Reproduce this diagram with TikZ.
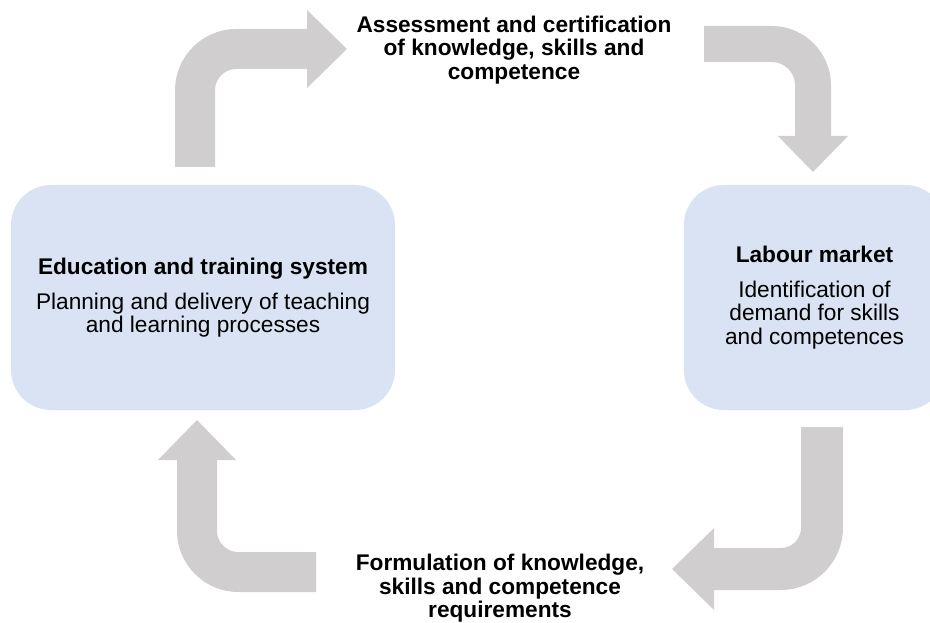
\documentclass[tikz,border=0pt]{standalone}
\usepackage{fontspec}
\setmainfont{Liberation Sans}
\usetikzlibrary{arrows.meta}
\definecolor{boxblue}{HTML}{DAE3F3}
\definecolor{arrowgray}{HTML}{D0CECE}
\tikzset{
  sysbox/.style={fill=boxblue, rounded corners=30pt, align=center, inner sep=0pt,
    font=\fontsize{17}{17.6}\selectfont},
  steptext/.style={align=center, inner sep=0pt, font=\bfseries\fontsize{17}{17.6}\selectfont},
  bentarrow/.style={draw=arrowgray, line width=#1, rounded corners=31pt,
    -{Triangle[width=0pt 1.95, length=0pt 1, line width=0pt]}},
  bentarrow/.default=30pt
}
\begin{document}
\begin{tikzpicture}[x=0.75pt,y=-0.75pt]
  \useasboundingbox (0,0) rectangle (930,623);
  % the two systems
  \node[sysbox, minimum width=288pt, minimum height=168.75pt] (edu) at (203,297.5)
    {\textbf{Education and training system}\\[8.6pt] Planning and delivery of teaching\\ and learning processes};
  \node[sysbox, minimum width=196pt, minimum height=168.75pt] (lab) at (814.5,297.5)
    {\textbf{Labour market}\\[8.6pt] Identification of\\ demand for skills\\ and competences};
  % what passes between them
  \node[steptext] (assess) at (514,50) {Assessment and certification\\ of knowledge, skills and\\ competence};
  \node[steptext] (formul) at (500,588.5) {Formulation of knowledge,\\ skills and competence\\ requirements};

  % ends of the bent arrows
  \coordinate (a1s) at (195,167);  \coordinate (a1e) at (347,49);
  \coordinate (a2s) at (704,44);   \coordinate (a2e) at (813,172);
  \coordinate (a3s) at (822,427);  \coordinate (a3e) at (672,569);
  \coordinate (a4s) at (316,572);  \coordinate (a4e) at (197,420);

  \draw[bentarrow] (a1s) |- (a1e);
  \draw[bentarrow=27pt] (a2s) -| (a2e);
  \draw[bentarrow=31.5pt] (a3s) |- (a3e);
  \draw[bentarrow] (a4s) -| (a4e);
\end{tikzpicture}
\end{document}
